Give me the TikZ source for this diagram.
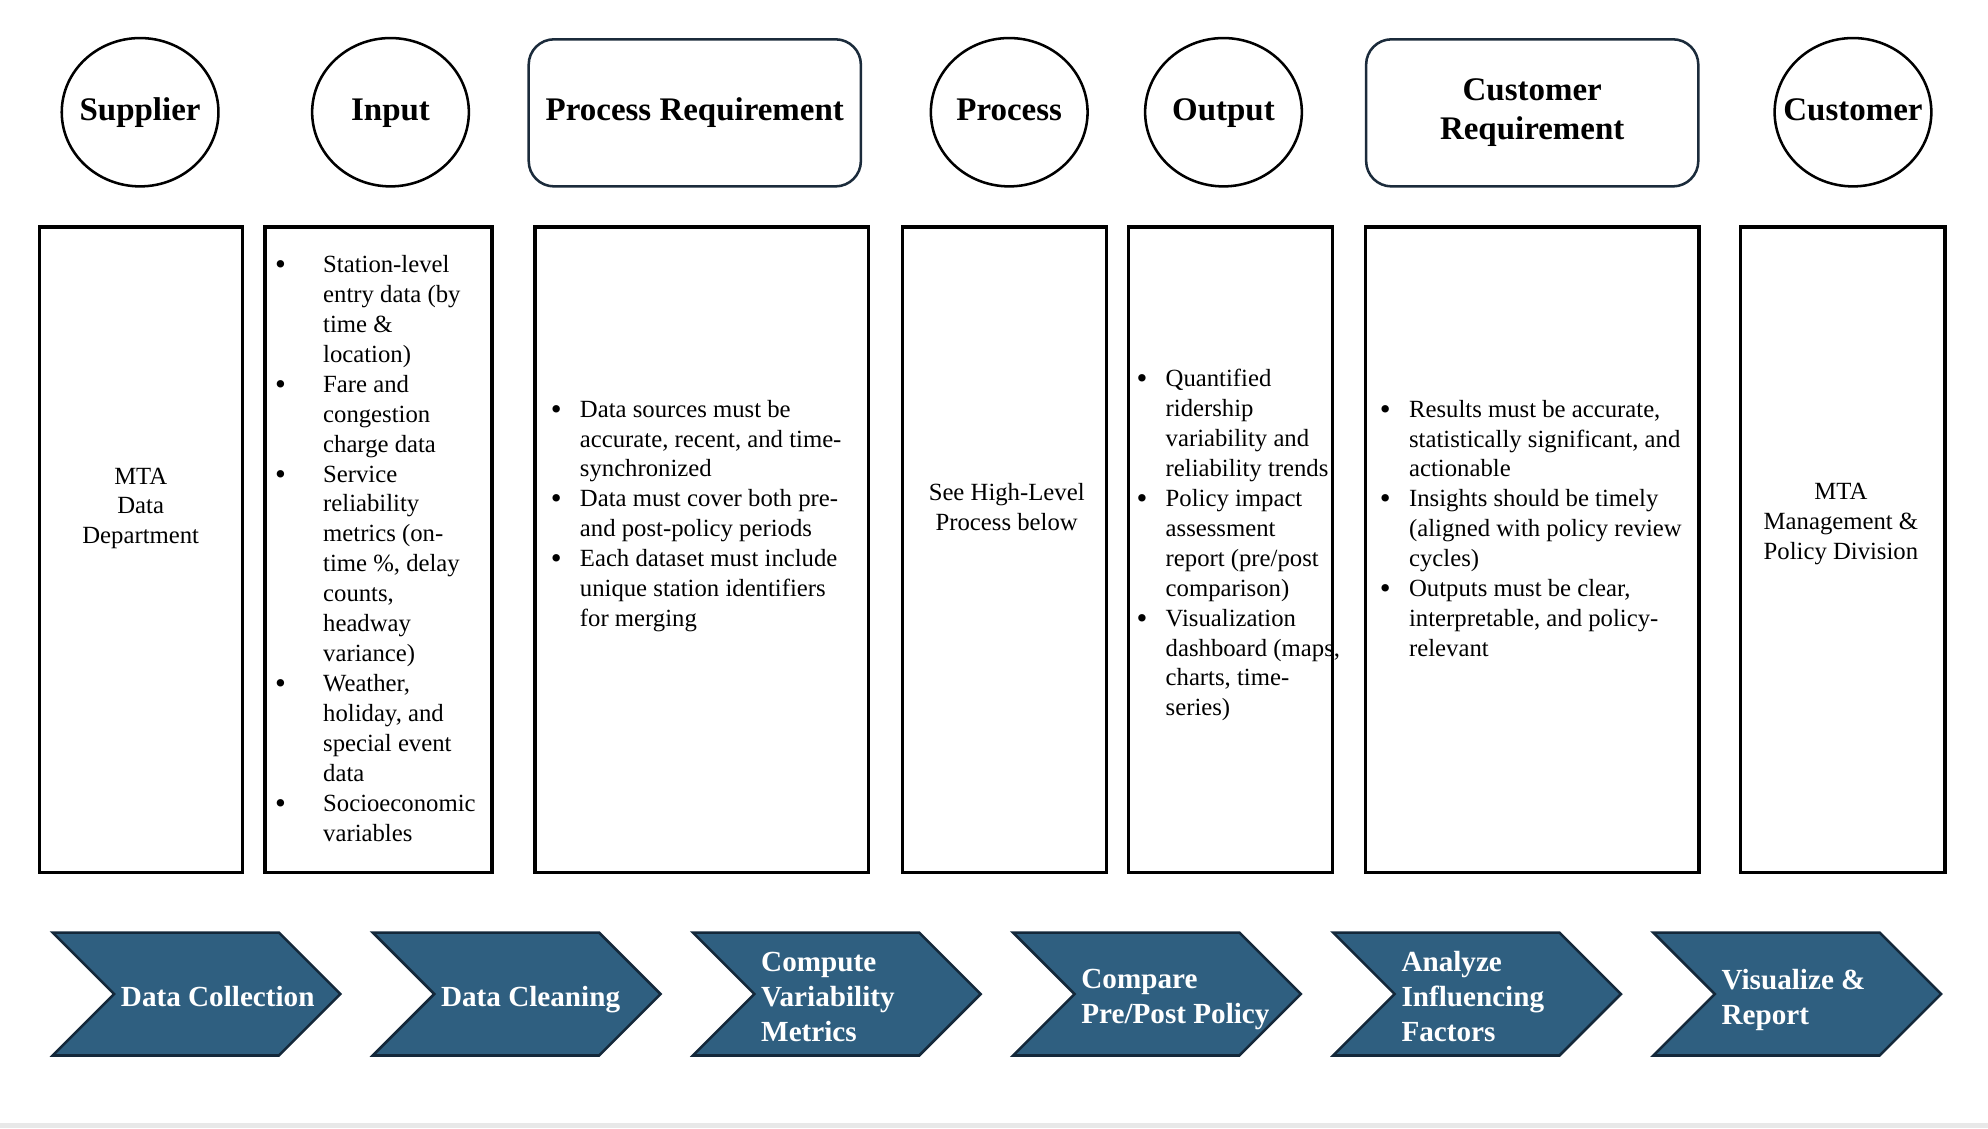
\documentclass[tikz,border=0pt]{standalone}
\usepackage{fontspec}
\usepackage{graphicx}
\setmainfont{Liberation Serif}
\usetikzlibrary{shapes.geometric, shapes.symbols}
\definecolor{stepblue}{HTML}{2F5F80}
\definecolor{stepedge}{HTML}{14283A}
\definecolor{headedge}{HTML}{1B2B3B}
\tikzset{
    head/.style={draw, line width=1pt, font=\fontsize{13}{15.5}\selectfont\bfseries, align=center, inner sep=0pt}, % 顶部标题
    headoval/.style={head, ellipse, minimum width=61.8pt, minimum height=58.5pt, text height=9.2pt, text depth=2.8pt},
    headbox/.style={head, draw=headedge, rounded corners=10pt, minimum width=131pt, minimum height=58pt},
    colbox/.style={draw, line width=1.25pt, minimum height=254.5pt, inner sep=0pt}, % 中间的列
    body/.style={font=\fontsize{9.75}{11.8}\selectfont, inner sep=0pt},
    chev/.style={signal, signal from=west, signal to=east, signal pointer angle=90, fill=stepblue, draw=stepedge, line width=1pt, minimum width=113.5pt, minimum height=48.5pt, inner sep=0pt}, % 底部箭头
    chevtext/.style={font=\fontsize{11.5}{13.8}\selectfont\bfseries, text=white, align=left, anchor=west, inner sep=0pt}
}
\newcommand{\bul}{\raisebox{-0.8pt}{\scalebox{1.25}{\textbullet}}}
\newcommand{\bullist}[2]{\begin{tabular}[t]{@{}p{#1}@{}l@{}}#2\end{tabular}}

\begin{document}
\begin{tikzpicture}[x=0.5pt, y=-0.5pt]
    \useasboundingbox (0,0) rectangle (1568,890);
    \fill[gray!18] (0,886) rectangle (1568,890);

    % 标题
    \foreach \n/\x/\t in {supplier/110.5/Supplier, input/308/Input, process/796/Process, output/965/Output, customer/1461.5/Customer}
        {\node[headoval] (\n) at (\x,88.5) {\makebox[0pt]{\t}};}
    \node[headbox] (preq) at (548,89) {Process Requirement};
    \node[headbox] (creq) at (1208.5,89) {Customer\\Requirement};

    % 中间的列
    \foreach \n/\a/\b in {sup/31/191, inp/209/388, prq/422/685, proc/712/873, outp/890/1051, crq/1077/1340, cust/1373/1534}
        {\node[colbox, minimum width={(\b-\a)*0.5pt}] (box-\n) at ({(\a+\b)/2},433.5) {};}

    \node[body, align=center] (t-sup) at (111,401) {MTA\\Data\\Department};
    \node[body, anchor=base west] (t-inp) at (216.5,215) {\bullist{19pt}{%
        \bul & Station-level\\ & entry data (by\\ & time \&\\ & location)\\
        \bul & Fare and\\ & congestion\\ & charge data\\
        \bul & Service\\ & reliability\\ & metrics (on-\\ & time \%, delay\\ & counts,\\ & headway\\ & variance)\\
        \bul & Weather,\\ & holiday, and\\ & special event\\ & data\\
        \bul & Socioeconomic\\ & variables}};
    \node[body, anchor=base west] (t-prq) at (434,329) {\bullist{11.5pt}{%
        \bul & Data sources must be\\ & accurate, recent, and time-\\ & synchronized\\
        \bul & Data must cover both pre-\\ & and post-policy periods\\
        \bul & Each dataset must include\\ & unique station identifiers\\ & for merging}};
    \node[body, align=center] (t-proc) at (794,400) {See High-Level\\Process below};
    \node[body, anchor=base west] (t-outp) at (896,305) {\bullist{11.5pt}{%
        \bul & Quantified\\ & ridership\\ & variability and\\ & reliability trends\\
        \bul & Policy impact\\ & assessment\\ & report (pre/post\\ & comparison)\\
        \bul & Visualization\\ & dashboard (maps,\\ & charts, time-\\ & series)}};
    \node[body, anchor=base west] (t-crq) at (1088,329) {\bullist{11.5pt}{%
        \bul & Results must be accurate,\\ & statistically significant, and\\ & actionable\\
        \bul & Insights should be timely\\ & (aligned with policy review\\ & cycles)\\
        \bul & Outputs must be clear,\\ & interpretable, and policy-\\ & relevant}};
    \node[body, align=center] (t-cust) at (1452,413) {MTA\\Management \&\\Policy Division};

    % 底部流程
    \foreach \i/\x/\t in {1/40/{Data Collection}, 2/292.5/{Data Cleaning}, 3/545/{Compute\\Variability\\Metrics}, 4/797.5/{Compare\\Pre/Post Policy}, 5/1050/{Analyze\\Influencing\\Factors}, 6/1302.5/{Visualize \&\\Report}}
        {\node[chev] (step\i) at (\x+115,784) {};
         \node[chevtext] (steptext\i) at (\x+55,788.5) {\t\vphantom{g}};}
\end{tikzpicture}
\end{document}
